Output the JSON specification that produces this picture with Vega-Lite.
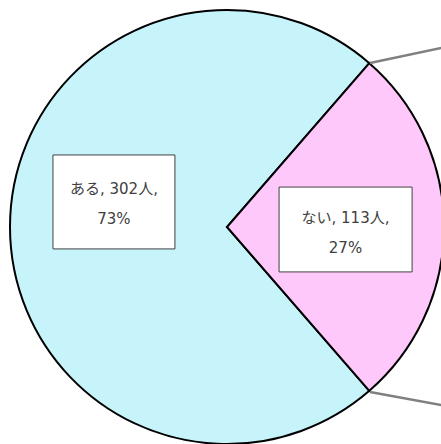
{
  "$schema": "https://vega.github.io/schema/vega-lite/v6.json",
  "width": 441,
  "height": 444,
  "autosize": {"type": "none"},
  "padding": 0,
  "background": "white",
  "config": {"view": {"stroke": null}},
  "encoding": {
    "x": {"type": "quantitative", "axis": null, "scale": {"domain": [-1.0461, 0.9862], "nice": false, "zero": false}},
    "y": {"type": "quantitative", "axis": null, "scale": {"domain": [-1.0, 1.0461], "nice": false, "zero": false}}
  },
  "layer": [
    {
      "data": {"values": [
        {"name": "ある", "count": 302},
        {"name": "ない", "count": 113}
      ]},
      "mark": {"type": "arc", "outerRadius": 217, "stroke": "#000000", "strokeWidth": 2},
      "encoding": {
        "x": {"datum": 0, "type": "quantitative"},
        "y": {"datum": 0, "type": "quantitative"},
        "theta": {"field": "count", "type": "quantitative", "stack": true, "scale": {"range": [2.4262, 8.7094]}},
        "order": {"field": "count", "sort": "descending"},
        "color": {"field": "name", "type": "nominal", "legend": null, "scale": {"domain": ["ある", "ない"], "range": ["#C6F4FA", "#FFC8FA"]}}
      }
    },
    {
      "data": {"values": [
        {"x1": 0.659, "y1": 0.756, "x2": 1.074, "y2": 0.843},
        {"x1": 0.659, "y1": -0.760, "x2": 1.074, "y2": -0.836}
      ]},
      "mark": {"type": "rule", "color": "#808080", "strokeWidth": 2.5},
      "encoding": {
        "x": {"field": "x1", "type": "quantitative"},
        "y": {"field": "y1", "type": "quantitative"},
        "x2": {"field": "x2"},
        "y2": {"field": "y2"}
      }
    },
    {
      "data": {"values": [
        {"name": "ある", "bx1": -0.802, "bx2": -0.240, "by1": 0.332, "by2": -0.101},
        {"name": "ない", "bx1": 0.240, "bx2": 0.853, "by1": 0.184, "by2": -0.207}
      ]},
      "mark": {"type": "rect", "fill": "#FFFFFF", "stroke": "#404040", "strokeWidth": 1},
      "encoding": {
        "x": {"field": "bx1", "type": "quantitative"},
        "x2": {"field": "bx2"},
        "y": {"field": "by1", "type": "quantitative"},
        "y2": {"field": "by2"}
      }
    },
    {
      "data": {"values": [
        {"label": "ある, 302人,\n73%", "tx": -0.521, "ty": 0.173},
        {"label": "ない, 113人,\n27%", "tx": 0.546, "ty": 0.042}
      ]},
      "mark": {"type": "text", "lineBreak": "\n", "lineHeight": 30, "font": "DejaVu Sans, Noto Sans CJK JP", "fontSize": 15, "color": "#404040", "align": "center", "baseline": "middle"},
      "encoding": {
        "x": {"field": "tx", "type": "quantitative"},
        "y": {"field": "ty", "type": "quantitative"},
        "text": {"field": "label"}
      }
    }
  ]
}
